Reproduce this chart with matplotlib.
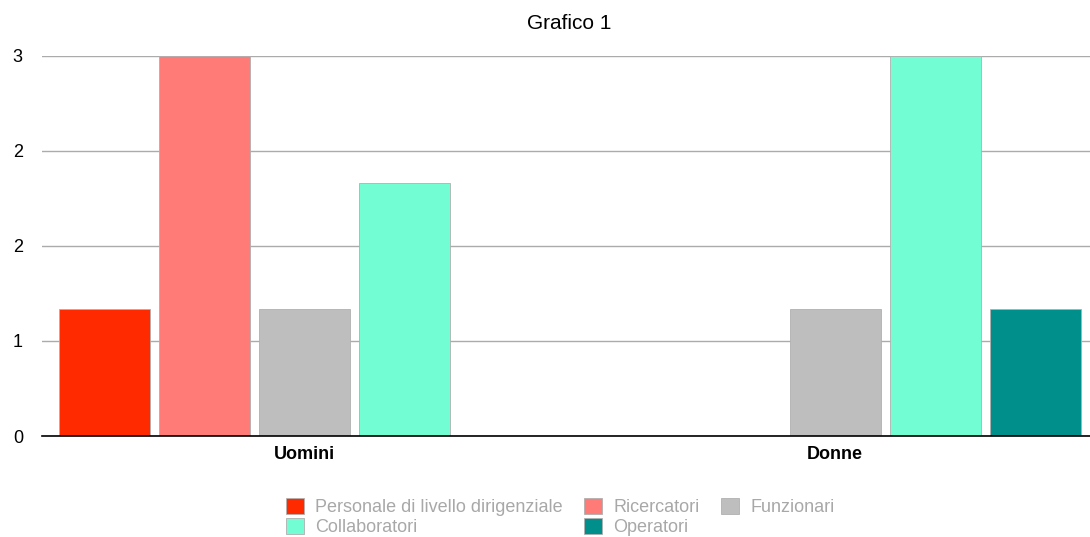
import matplotlib
matplotlib.use('Agg')
import matplotlib.pyplot as plt
import numpy as np
from matplotlib.ticker import FuncFormatter

plt.rcParams['font.family'] = ['Liberation Sans', 'DejaVu Sans']

categories = ['Uomini', 'Donne']
series_names = ['Personale di livello dirigenziale', 'Ricercatori', 'Funzionari',
                'Collaboratori', 'Operatori']
# una lista per serie, un valore per categoria (nan = valore mancante)
personale = [1, np.nan]
ricercatori = [3, np.nan]
funzionari = [1, 1]
collaboratori = [2, 3]
operatori = [np.nan, 1]
y_ticks = [0, 0.75, 1.5, 2.25, 3]

colors = ['#FF2A00', '#FF7B77', '#BEBEBE', '#72FDD2', '#008F8B']

values = [personale, ricercatori, funzionari, collaboratori, operatori]

fig = plt.figure(figsize=(10.9, 5.37), dpi=100)
ax = fig.add_axes([0.0385, 0.188, 0.9615, 0.708])

step = 100 / 530
width = 91 / 530
x = np.arange(len(categories))
handles = []
for i, (name, vals) in enumerate(zip(series_names, values)):
    b = ax.bar(x + (i - 2) * step, vals, width, color=colors[i],
               edgecolor='#B0B0B0', linewidth=0.6, label=name, zorder=3)
    handles.append(b)

ax.set_xlim(-0.496, 1.481)
ax.set_ylim(0, 3)
ax.set_yticks(y_ticks)
# etichette arrotondate come nell'originale (0.75 -> 1, 1.5 -> 2, 2.25 -> 2)
ax.yaxis.set_major_formatter(FuncFormatter(lambda v, p: str(int(np.floor(v + 0.5)))))
ax.set_xticks(x)
ax.set_xticklabels(categories, fontweight='bold', fontsize=13)
ax.tick_params(axis='both', length=0, labelsize=13)
ax.tick_params(axis='x', pad=7)
ax.tick_params(axis='y', pad=21)
for lbl in ax.get_yticklabels():
    lbl.set_horizontalalignment('left')
ax.yaxis.grid(True, color='#ABABAB', linewidth=1, zorder=0)
for s in ['top', 'right', 'left']:
    ax.spines[s].set_visible(False)
ax.spines['bottom'].set_color('black')
ax.spines['bottom'].set_linewidth(1.2)
ax.spines['bottom'].set_zorder(4)

fig.text(0.522, 0.957, 'Grafico 1', ha='center', va='center', fontsize=15)

order = [0, 3, 1, 4, 2]
leg = fig.legend([handles[i] for i in order], [series_names[i] for i in order],
                 loc='upper center', bbox_to_anchor=(0.514, 0.097), ncol=3,
                 frameon=False, fontsize=13, handlelength=1.0, handleheight=1.0,
                 handletextpad=0.6, columnspacing=1.2, labelspacing=0.12,
                 borderpad=0.2)
for t in leg.get_texts():
    t.set_color('#A8A8A8')

fig.savefig('out.png', dpi=100)
